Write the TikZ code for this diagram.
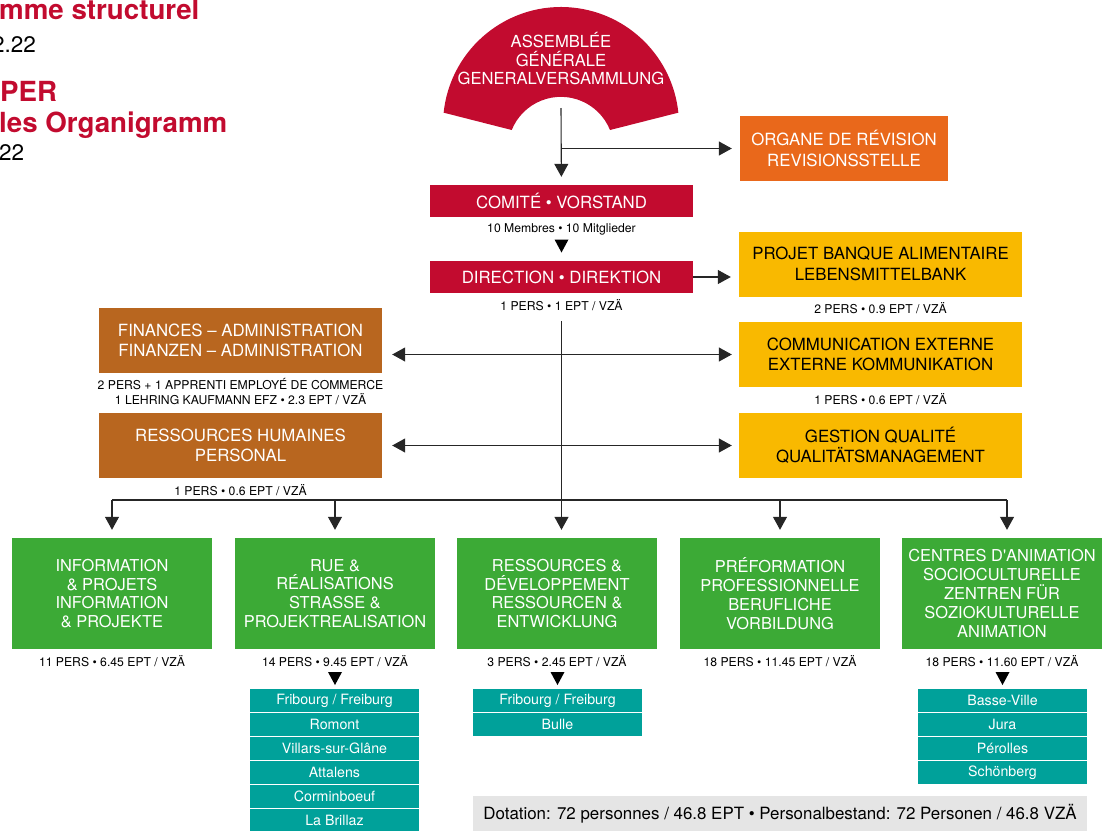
\documentclass[tikz,border=0pt]{standalone}
\usepackage{fontspec}
\setmainfont{TeX Gyre Heros}
\usepackage{tikz}
\usetikzlibrary{arrows.meta,positioning}
\definecolor{agred}{HTML}{C20B2F}
\definecolor{revorange}{HTML}{E9681B}
\definecolor{adminbrown}{HTML}{B8661F}
\definecolor{projyellow}{HTML}{F9B900}
\definecolor{sectgreen}{HTML}{3CAA36}
\definecolor{siteteal}{HTML}{00A19A}
\definecolor{dotgrey}{HTML}{E5E5E5}

\begin{document}
\begin{tikzpicture}[x=1pt,y=-1pt,
  every node/.style={inner sep=0pt},
  box/.style={minimum width=283pt,minimum height=65pt,align=center,font=\fontsize{16.8}{20.5}\selectfont},
  redbox/.style={box,fill=agred,text=white,minimum width=263pt,minimum height=32pt},
  orangebox/.style={box,fill=revorange,text=white,minimum width=208pt},
  brownbox/.style={box,fill=adminbrown,text=white},
  yellowbox/.style={box,fill=projyellow,text=black},
  sectbox/.style={minimum width=200pt,minimum height=111pt,align=center,fill=sectgreen,text=white,font=\fontsize{16.4}{18.8}\selectfont},
  sitebox/.style={minimum width=169pt,minimum height=23pt,fill=siteteal,text=white,font=\fontsize{14.2}{16}\selectfont},
  staff/.style={align=center,font=\fontsize{12.2}{15}\selectfont},
  headline/.style={anchor=base west,text=agred,font=\fontsize{27.7}{30}\selectfont\bfseries},
  dateline/.style={anchor=base west,font=\fontsize{22.5}{26}\selectfont},
  link/.style={draw=black!85,line width=1.1pt},
  arr/.style={link,-{Triangle[width=14pt,length=13pt]},shorten >=8pt},
  dblarr/.style={link,{Triangle[width=14pt,length=13pt]}-{Triangle[width=14pt,length=13pt]},shorten <=10pt,shorten >=7pt},
  droptri/.pic={\fill[black] (-7,-6.5) -- (7,-6.5) -- (0,6.5) -- cycle;}
]
\useasboundingbox (0,0) rectangle (1102,830);

\node[headline] (titlefr) at (-1,19.5) {mme structurel};
\node[dateline] (datefr) at (-8,52) {2.22};
\node[headline] (titlede) at (0,101) {PER};
\node[headline] (orgde) at (-1,132) {les Organigramm};
\node[dateline] (datede) at (-1,160) {22};

% assemblee generale
\fill[agred] (561,125) ++(186:118) arc[start angle=186,end angle=354,radius=118]
  -- (610,130) arc[start angle=338,end angle=202,radius=53] -- cycle;
\node[align=center,text=white,font=\fontsize{16.6}{18.5}\selectfont] (ag) at (561,59)
  {ASSEMBLÉE\\GÉNÉRALE\\GENERALVERSAMMLUNG};
\coordinate (agfoot) at (561,108);

\node[redbox] (comite) at (561.5,201) {COMITÉ • VORSTAND};
\node[staff,below=6pt of comite] (comitestaff) {10 Membres • 10 Mitglieder};
\pic (comitetri) at (561.5,246) {droptri};
\node[redbox] (direction) at (561.5,277) {DIRECTION • DIREKTION};
\node[staff,below=6pt of direction] (dirstaff) {1 PERS • 1 EPT / VZÄ};

\node[orangebox] (revision) at (844,148.5) {ORGANE DE RÉVISION\\REVISIONSSTELLE};
\node[yellowbox] (banque) at (880.5,264) {PROJET BANQUE ALIMENTAIRE\\LEBENSMITTELBANK};
\node[staff,below=6pt of banque] (banquestaff) {2 PERS • 0.9 EPT / VZÄ};
\node[yellowbox] (comext) at (880.5,354.5) {COMMUNICATION EXTERNE\\EXTERNE KOMMUNIKATION};
\node[staff,below=6pt of comext] (comextstaff) {1 PERS • 0.6 EPT / VZÄ};
\node[yellowbox] (qualite) at (880.5,445.5) {GESTION QUALITÉ\\QUALITÄTSMANAGEMENT};

\node[brownbox] (finances) at (240.5,340.5) {FINANCES – ADMINISTRATION\\FINANZEN – ADMINISTRATION};
\node[staff,below=5pt of finances] (financesstaff)
  {2 PERS + 1 APPRENTI EMPLOYÉ DE COMMERCE\\1 LEHRING KAUFMANN EFZ • 2.3 EPT / VZÄ};
\node[brownbox] (rh) at (240.5,445.5) {RESSOURCES HUMAINES\\PERSONAL};
\node[staff,below=6pt of rh] (rhstaff) {1 PERS • 0.6 EPT / VZÄ};

% secteurs
\node[sectbox] (info) at (112,593.5) {INFORMATION\\\& PROJETS\\INFORMATION\\\& PROJEKTE};
\node[sectbox] (rue) at (335,593.5) {RUE \&\\RÉALISATIONS\\STRASSE \&\\PROJEKTREALISATION};
\node[sectbox] (resdev) at (557,593.5) {RESSOURCES \&\\DÉVELOPPEMENT\\RESSOURCEN \&\\ENTWICKLUNG};
\node[sectbox] (prefo) at (780,593.5) {PRÉFORMATION\\PROFESSIONNELLE\\BERUFLICHE\\VORBILDUNG};
\node[sectbox] (centres) at (1002,593.5) {CENTRES D\textquotesingle ANIMATION\\SOCIOCULTURELLE\\ZENTREN FÜR\\SOZIOKULTURELLE\\ANIMATION};
\node[staff,below=6pt of info] (infostaff) {11 PERS • 6.45 EPT / VZÄ};
\node[staff,below=6pt of rue] (ruestaff) {14 PERS • 9.45 EPT / VZÄ};
\node[staff,below=6pt of resdev] (resdevstaff) {3 PERS • 2.45 EPT / VZÄ};
\node[staff,below=6pt of prefo] (prefostaff) {18 PERS • 11.45 EPT / VZÄ};
\node[staff,below=6pt of centres] (centresstaff) {18 PERS • 11.60 EPT / VZÄ};

\pic (ruetri) at (335,678.5) {droptri};
\pic (resdevtri) at (557.5,678.5) {droptri};
\pic (centrestri) at (1002.5,678.5) {droptri};

\foreach \site [count=\i] in {Fribourg / Freiburg,Romont,Villars-sur-Glâne,Attalens,Corminboeuf,La Brillaz}
  \node[sitebox] (rue\i) at (334.5,676.5+24*\i) {\site};
\foreach \site [count=\i] in {Fribourg / Freiburg,Bulle}
  \node[sitebox] (resdev\i) at (557.5,676.5+24*\i) {\site};
\foreach \site [count=\i] in {Basse-Ville,Jura,Pérolles,Schönberg}
  \node[sitebox] (centres\i) at (1002.5,676.5+24*\i) {\site};

\node[fill=dotgrey,minimum width=614pt,minimum height=36pt,font=\fontsize{16.9}{19}\selectfont] (dotation) at (780,814)
  {Dotation: 72 personnes / 46.8 EPT • Personalbestand: 72 Personen / 46.8 VZÄ};

% liaisons
\draw[arr] (agfoot) -- (comite);
\draw[arr] (agfoot |- revision.west) -- (revision.west);
\draw[arr] (direction.east) -- (direction.east -| banque.west);
\draw[arr,shorten <=10pt] (dirstaff.south) -- (dirstaff.south |- resdev.north);
\draw[dblarr] (finances.east |- comext.west) -- (comext.west);
\draw[dblarr] (rh.east) -- (qualite.west);
\coordinate (bus) at (561,500);
\draw[link] (bus -| info.north) -- ([xshift=5pt]bus -| centres.north);
\foreach \sect in {info,rue,prefo}
  \draw[arr] (bus -| \sect.north) -- (\sect.north);
\draw[arr] ([xshift=5pt]bus -| centres.north) -- ([xshift=5pt]centres.north);
\end{tikzpicture}
\end{document}
